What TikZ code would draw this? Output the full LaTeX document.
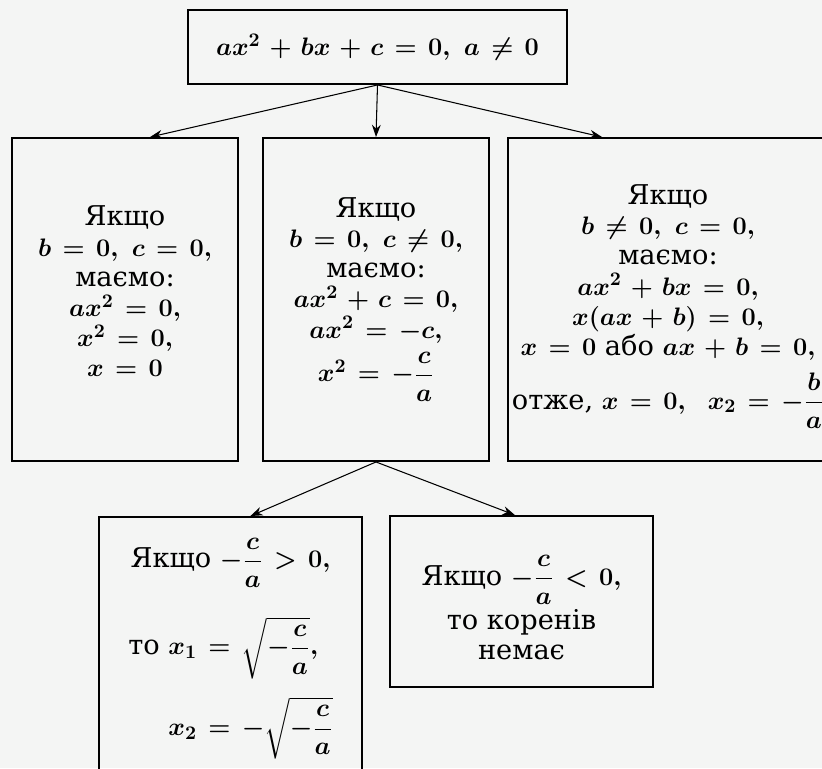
\documentclass[tikz,border=0pt]{standalone}
\usepackage[no-math]{fontspec}
\setmainfont{DejaVu Serif}
\usepackage{amsmath}
\usetikzlibrary{calc,arrows.meta}
\definecolor{pagebg}{RGB}{244,245,244}
\medmuskip=5.5mu plus 2mu minus 2mu
\thickmuskip=7mu plus 3mu
\begin{document}
\begin{tikzpicture}[
        x=0.02cm, y=-0.02cm,
        casebox/.style={draw=black, line width=1.1pt, align=center, inner sep=0pt,
            font=\fontsize{15.5}{17.2}\selectfont\boldmath},
        flow/.style={->, line width=0.6pt},
        >={Stealth[length=7pt, width=5pt]}
    ]
        % Page
        \fill[pagebg] (0,0) rectangle (822,768);
        \useasboundingbox (0,0) rectangle (822,768);

        % General equation
        \node[casebox, minimum width=379*0.02cm, minimum height=74*0.02cm] (eqn) at (377.5,47)
            {$ax^2 + bx + c = 0,\ a \ne 0$};

        % Three incomplete cases
        \node[casebox, minimum width=226*0.02cm, minimum height=323*0.02cm] (casebc) at (125,299.5)
            {Якщо\\ $b = 0,\ c = 0,$\\ маємо:\\ $ax^2 = 0,$\\ $x^2 = 0,$\\ $x = 0$\\[-8pt]};
        \node[casebox, minimum width=226*0.02cm, minimum height=323*0.02cm] (casec) at (376,299.5)
            {Якщо\\ $b = 0,\ c \ne 0,$\\ маємо:\\ $ax^2 + c = 0,$\\ $ax^2 = -c,$\\[4pt] $x^2 = -\dfrac{c}{a}$\\[-6pt]};
        \node[casebox, minimum width=320*0.02cm, minimum height=323*0.02cm] (caseb) at (668,299.5)
            {\\[2pt] Якщо\\ $b \ne 0,\ c = 0,$\\ маємо:\\ $ax^2 + bx = 0,$\\ $x(ax + b) = 0,$\\
             $x = 0$ або $ax + b = 0,$\\[6pt] отже, $x = 0,\ \ x_2 = -\dfrac{b}{a}$};

        % Sign of -c/a
        \node[casebox, minimum width=263*0.02cm, minimum height=263*0.02cm] (rootsyes) at (230.5,648.5)
            {Якщо $-\dfrac{c}{a} > 0,$\\[16pt]
             $\begin{array}{r@{\;=\;}l}
                 \text{то } x_1 & \sqrt{-\dfrac{c}{a}},\\[19pt]
                 x_2 & -\sqrt{-\dfrac{c}{a}}
             \end{array}$};
        \node[casebox, minimum width=263*0.02cm, minimum height=171*0.02cm] (rootsno) at (521.5,601.5)
            {\\[7pt] Якщо $-\dfrac{c}{a} < 0,$\\[2pt] то коренів\\ немає};

        % Connectors
        \draw[flow] (eqn.south) -- ($(casebc.north)!0.22!(casebc.north east)$);
        \draw[flow] (eqn.south) -- (casec.north);
        \draw[flow] (eqn.south) -- ($(caseb.north)!0.41!(caseb.north west)$);
        \draw[flow] (casec.south) -- ($(rootsyes.north)!0.15!(rootsyes.north east)$);
        \draw[flow] (casec.south) -- ($(rootsno.north)!0.05!(rootsno.north west)$);
    \end{tikzpicture}
\end{document}
